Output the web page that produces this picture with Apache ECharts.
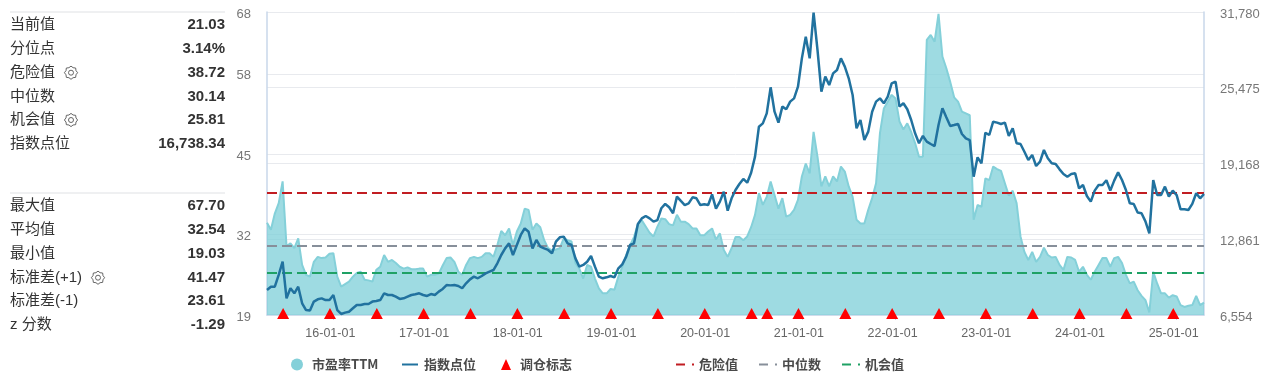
<!DOCTYPE html>
<html><head><meta charset="utf-8">
<style>html,body{margin:0;padding:0;background:#fff}#c{width:1267px;height:382px}</style>
<script src="https://cdn.jsdelivr.net/npm/echarts@6/dist/echarts.min.js"></script>
</head><body><div id="c"></div>
<script>
const FONT = '"Liberation Sans","Noto Sans CJK SC",sans-serif';
const CJK = '"Noto Sans CJK SC","Liberation Sans",sans-serif';
const statsTop = [['当前值','21.03'],['分位点','3.14%'],['危险值','38.72'],['中位数','30.14'],['机会值','25.81'],['指数点位','16,738.34']];
const statsBottom = [['最大值','67.70'],['平均值','32.54'],['最小值','19.03'],['标准差(+1)','41.47'],['标准差(-1)','23.61'],['z 分数','-1.29']];
const dangerValue = 38.72, medianValue = 30.14, chanceValue = 25.81;
const rebalanceDates = ['15-06-16','15-12-16','16-06-16','16-12-16','17-06-16','17-12-16','18-06-16','18-12-16','19-06-16','19-12-16','20-06-16','20-08-16','20-12-16','21-06-16','21-12-16','22-06-16','22-12-16','23-06-16','23-12-16','24-06-16','24-12-16'];
const pe = [
33.9,32.8,35.4,37.1,40.6,30.1,30.6,29.8,31.4,27.1,
25.5,25.2,27.6,28.4,28.2,28.3,28.9,29.0,25.2,23.6,
24.0,24.4,25.2,25.8,26.0,24.7,24.6,24.4,26.3,26.8,
28.7,27.6,27.9,27.4,26.8,26.5,26.7,26.4,26.4,26.5,
26.5,25.2,25.5,25.5,25.7,27.0,28.2,28.3,27.6,26.0,
25.5,27.1,28.2,28.4,28.2,28.4,29.0,29.0,28.4,30.3,
32.6,31.9,33.0,30.3,32.5,33.8,36.2,36.0,32.8,33.8,
33.2,31.1,29.8,29.4,29.6,29.8,31.4,31.1,30.9,27.4,
26.5,24.9,27.1,26.8,24.9,23.3,22.5,22.5,23.2,23.1,
25.2,26.8,28.7,30.3,31.6,33.7,34.3,33.3,32.3,31.7,
33.3,34.6,34.5,33.7,33.5,35.2,34.1,34.1,33.7,33.0,
33.0,31.9,31.9,32.5,33.0,31.2,32.2,29.5,28.4,29.8,
31.6,31.6,31.1,31.7,33.2,35.2,38.7,36.8,38.1,40.6,
38.4,36.2,37.9,34.9,35.2,36.0,37.6,41.4,43.5,41.9,
48.6,44.6,39.8,41.4,39.8,41.4,40.6,43.0,42.2,39.8,
38.1,34.4,33.8,33.8,36.0,37.9,40.3,48.4,52.4,53.5,
54.6,54.0,50.3,49.0,50.0,48.6,46.8,44.6,44.6,63.5,
64.3,63.2,67.7,60.8,58.9,56.7,54.2,53.5,51.9,51.6,
51.3,34.4,36.8,36.5,41.1,40.8,43.0,42.6,42.3,40.3,
38.3,39.1,37.1,31.7,29.2,27.9,29.2,27.6,28.4,29.9,
28.7,28.3,28.4,27.1,26.3,28.4,28.3,27.9,26.0,26.8,
25.5,24.7,26.0,27.1,28.2,28.2,26.8,28.2,28.4,27.4,
25.5,24.1,24.4,23.0,22.1,21.4,19.4,26.0,24.1,22.5,
22.5,21.8,22.2,22.0,20.6,20.3,20.5,20.6,22.1,20.6,21.0];
const indexPoints = [
8640,8910,8910,9890,11000,7940,8780,8360,8910,7530,
6970,6920,7670,7860,7940,7800,7800,8220,6970,6640,
6750,6830,7110,7390,7390,7470,7470,7670,7720,7800,
8360,8220,8220,8080,7890,7940,8080,8220,8280,8360,
8220,8140,8300,8220,8500,8720,9050,9020,9050,8970,
8780,9190,9520,9750,9610,9800,10020,10160,10300,10860,
11550,12100,12520,11550,12380,13220,13770,13490,12100,12800,
12240,12100,11970,11690,12660,13020,13080,12520,12380,11270,
10580,10720,10990,11470,10580,9750,9610,9690,9800,9690,
10440,10770,11410,12380,12520,14130,14600,14800,14600,14330,
14460,15440,15800,15520,15020,16410,16050,15710,15850,16350,
16270,15710,15770,15710,16600,15410,15990,16820,15240,16270,
16960,17460,17880,17570,18400,19740,22230,22510,23340,25510,
23480,22570,23900,23680,24320,24590,25560,27920,29730,27920,
31720,28620,25150,26400,25700,26670,26950,27920,27230,26260,
24870,22100,22790,21120,21820,23480,24320,24590,24180,24730,
25840,25980,23900,24180,23680,22790,21680,20850,21460,20990,
20790,20620,22370,23760,23010,22290,22370,22460,21620,21260,
21120,18070,19680,19180,21730,21540,22650,22570,22460,22570,
21460,22100,20850,20790,20150,19460,19880,18960,19320,20290,
19600,19180,19130,18680,18290,18070,18290,18350,17100,17380,
16460,15990,16910,17380,17380,17770,16910,17740,18430,17790,
16960,15850,15800,15080,15020,14350,13350,17790,16540,16540,
17240,16410,16910,16540,15350,15350,15300,15800,16690,16270,16630];

// half-monthly date axis, 15-04-16 to 25-04-16
const categories = [];
const p2 = n => String(n).padStart(2,'0');
for (let y = 15; y <= 25; y++) for (let m = 1; m <= 12; m++) for (const d of [1,16]) {
  const k = y*10000 + m*100 + d;
  if (k >= 150416 && k <= 250416) categories.push(p2(y)+'-'+p2(m)+'-'+p2(d));
}
const isYearStart = (i, v) => categories[i].endsWith('-01-01');
const flat = v => categories.map(() => v);

function gear(cx, cy) {
  const pts = [];
  const n = 8;
  for (let i = 0; i < n*2; i++) {
    const a = Math.PI*i/n, r = i%2 ? 5.4 : 6.6;
    pts.push([cx + r*Math.cos(a), cy + r*Math.sin(a)]);
  }
  return [
    {type:'polygon', shape:{points:pts}, style:{fill:'none', stroke:'#555', lineWidth:0.9}},
    {type:'circle', shape:{cx, cy, r:2.5}, style:{fill:'none', stroke:'#555', lineWidth:0.9}}
  ];
}
const gfx = [];
const rowTop = [25,49,73,97,120,144], rowBottom = [206,230,254,278,301,325];
function rows(list, ys) {
  list.forEach((r,i) => {
    gfx.push({type:'text', x:10, y:ys[i], style:{text:r[0], font:'15px '+FONT, fill:'#333', textVerticalAlign:'middle'}});
    gfx.push({type:'text', x:225, y:ys[i], style:{text:r[1], font:'bold 15px '+FONT, fill:'#333', textAlign:'right', textVerticalAlign:'middle'}});
  });
}
rows(statsTop,rowTop); rows(statsBottom,rowBottom);
[12,193].forEach(y => gfx.push({type:'line', shape:{x1:10,y1:y,x2:225,y2:y}, style:{stroke:'#dfe1e4', lineWidth:1}}));
gfx.push(...gear(71,72.7), ...gear(71,120), ...gear(98,277.7));

const legendText = (pad) => ({fontSize:13, fontFamily:CJK, color:'#4a4a4a', fontWeight:'bold', padding:[0,0,0,pad]});
const legendItem = (name, left, icon, w, h, pad, color) => ({
  left, top:358, padding:0, itemWidth:w, itemHeight:h, textStyle:legendText(pad),
  data:[{name, icon, itemStyle:{color, borderWidth:0, opacity:1}}]
});
const DASH_ICON = 'path://M0 0H9V2H0Z M16 0H18V2H16Z';
const yLabel = {color:'#777', fontSize:13, fontFamily:FONT, margin:16, formatter:'{v|{value}}',
  rich:{v:{color:'#777', fontSize:13, fontFamily:FONT, padding:[4,0,0,0]}}};
const chart = echarts.init(document.getElementById('c'), null, {renderer:'canvas'});
chart.setOption({
  animation:false,
  graphic:gfx,
  legend:[
    legendItem('市盈率TTM',291,'circle',12,12,4,'#84d0d9'),
    legendItem('指数点位',402,'rect',16,2,1,'#21729f'),
    legendItem('调仓标志',501,'triangle',10,11,4,'#ff0000'),
    legendItem('危险值',676,DASH_ICON,18,2,0,'#c11d22'),
    legendItem('中位数',759,DASH_ICON,18,2,0,'#878f9a'),
    legendItem('机会值',842,DASH_ICON,18,2,0,'#1fa165')
  ],
  grid:{left:267, right:63, top:12, bottom:67, containLabel:false},
  xAxis:{type:'category', data:categories, boundaryGap:false,
    axisLine:{lineStyle:{color:'#c9d7ea', width:1.5}},
    axisTick:{length:5, interval:isYearStart, lineStyle:{color:'#c9d7ea'}},
    axisLabel:{interval:isYearStart, color:'#666', fontSize:12.5, fontFamily:FONT, margin:12, padding:[0,6,0,0], hideOverlap:false},
    splitLine:{show:false}},
  yAxis:[
    {type:'value', min:19, max:68, interval:13,
     axisLine:{show:true, lineStyle:{color:'#c9d7ea', width:1.5}}, axisTick:{show:false},
     axisLabel:yLabel,
     splitLine:{lineStyle:{color:'#e8eaee'}}},
    {type:'value', min:6554, max:31780, interval:6307, position:'right',
     axisLine:{show:true, lineStyle:{color:'#c9d7ea', width:1.5}}, axisTick:{show:false},
     axisLabel:yLabel,
     splitLine:{lineStyle:{color:'#e8eaee'}}}
  ],
  series:[
    {name:'市盈率TTM', type:'line', yAxisIndex:0, data:pe, symbol:'none', z:2,
     itemStyle:{color:'#84d0d9'}, lineStyle:{color:'#84d0d9', width:2}, areaStyle:{color:'#7ecfd8', opacity:0.75}},
    {name:'指数点位', type:'line', yAxisIndex:1, data:indexPoints, symbol:'none', z:4,
     itemStyle:{color:'#21729f'}, lineStyle:{color:'#21729f', width:2.5}},
    {name:'调仓标志', type:'scatter', yAxisIndex:0, data:rebalanceDates.map(d=>[d,19]), symbol:'triangle', symbolSize:[12,11], symbolOffset:[0.5,-1.5], z:5, clip:false,
     itemStyle:{color:'#ff0000', opacity:1}},
    {name:'危险值', type:'line', yAxisIndex:0, data:flat(dangerValue), symbol:'none', z:3,
     itemStyle:{color:'#c11d22'}, lineStyle:{color:'#c11d22', width:2, type:[10,5]}},
    {name:'中位数', type:'line', yAxisIndex:0, data:flat(medianValue), symbol:'none', z:3,
     itemStyle:{color:'#878f9a'}, lineStyle:{color:'#878f9a', width:2, type:[10,5]}},
    {name:'机会值', type:'line', yAxisIndex:0, data:flat(chanceValue), symbol:'none', z:3,
     itemStyle:{color:'#1fa165'}, lineStyle:{color:'#1fa165', width:2, type:[10,5]}}
  ]
});
</script></body></html>
